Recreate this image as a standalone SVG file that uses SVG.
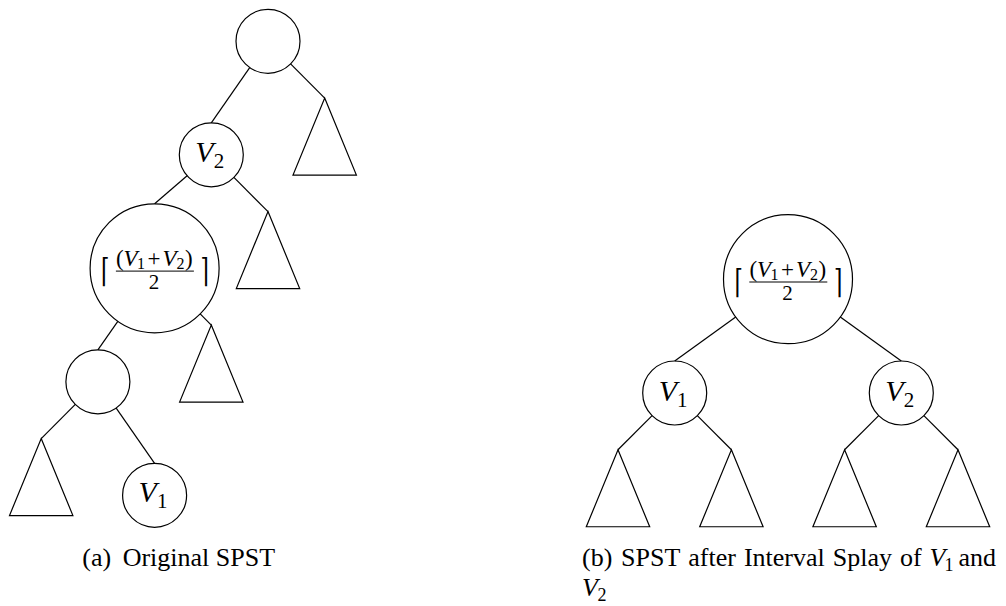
<svg xmlns="http://www.w3.org/2000/svg" width="1006" height="606" viewBox="0 0 1006 606">
<style>
.c{fill:none;stroke:#000;stroke-width:1.2}
.e{fill:none;stroke:#000;stroke-width:1.2}
.t{font-family:"Liberation Serif","Times New Roman",serif;fill:#000}
.i{font-style:italic}
.br{font-family:"DejaVu Serif",serif;fill:#000;font-size:33px}
</style>
<rect width="1006" height="606" fill="#fff"/>
<g id="connectors">
<line class="e" x1="249.7" y1="67.6" x2="211.3" y2="122.8"/>
<line class="e" x1="290.6" y1="63.9" x2="324.7" y2="98.05"/>
<line class="e" x1="187.1" y1="175.7" x2="154.6" y2="203.8"/>
<line class="e" x1="233.9" y1="177.4" x2="268" y2="211.55"/>
<line class="e" x1="117.8" y1="321.3" x2="97.9" y2="349.8"/>
<line class="e" x1="200.2" y1="313.9" x2="211.3" y2="325.05"/>
<line class="e" x1="75.3" y1="404.4" x2="41.2" y2="438.55"/>
<line class="e" x1="116.2" y1="408.1" x2="154.6" y2="463.3"/>
<line class="e" x1="735.7" y1="317" x2="674.7" y2="361"/>
<line class="e" x1="840.3" y1="317" x2="901.3" y2="361"/>
<line class="e" x1="652.1" y1="415.6" x2="618" y2="449.75"/>
<line class="e" x1="697.3" y1="415.6" x2="731.4" y2="449.75"/>
<line class="e" x1="878.7" y1="415.6" x2="844.6" y2="449.75"/>
<line class="e" x1="923.9" y1="415.6" x2="958" y2="449.75"/>
</g>
<g id="a-root"><circle class="c" cx="268" cy="41.3" r="32"/></g>
<g id="a-tri1"><polygon class="c" points="324.7,98.05 356.4,175.05 293,175.05"/></g>
<g id="a-v2"><circle class="c" cx="211.3" cy="154.8" r="32"/>
<text class="t" font-size="30" y="161.7"><tspan class="i" x="195.3">V</tspan><tspan font-size="21" y="168">2</tspan></text></g>
<g id="a-tri2"><polygon class="c" points="268,211.55 299.7,288.55 236.3,288.55"/></g>
<g id="a-mid"><circle class="c" cx="154.6" cy="268.3" r="64.5"/>
<g transform="translate(154.6,268.3)">
<text class="t" font-size="23"><tspan x="-38.5" y="-2.5">(</tspan><tspan class="i" x="-31" y="-2.5">V</tspan><tspan font-size="16" x="-17.5" y="1">1</tspan><tspan x="-7" y="-2.5">+</tspan><tspan class="i" x="8" y="-2.5">V</tspan><tspan font-size="16" x="22" y="1">2</tspan><tspan x="30.5" y="-2.5">)</tspan></text>
<line x1="-38.7" y1="2.8" x2="39.3" y2="2.8" stroke="#000" stroke-width="1"/>
<text class="t" font-size="21" x="-0.5" y="20.8" text-anchor="middle">2</text>
<text class="br" transform="translate(-53.5,14) scale(0.65,1)">⌈</text>
<text class="br" transform="translate(46,14) scale(0.65,1)">⌉</text>
</g></g>
<g id="a-tri3"><polygon class="c" points="211.3,325.05 243,402.05 179.6,402.05"/></g>
<g id="a-low"><circle class="c" cx="97.9" cy="381.8" r="32"/></g>
<g id="a-tri4"><polygon class="c" points="41.2,438.55 72.9,515.55 9.5,515.55"/></g>
<g id="a-v1"><circle class="c" cx="154.6" cy="495.3" r="32"/>
<text class="t" font-size="30" y="501.7"><tspan class="i" x="138.6">V</tspan><tspan font-size="21" y="508">1</tspan></text></g>
<g id="b-mid"><circle class="c" cx="788" cy="279.2" r="64.5"/>
<g transform="translate(788,279.2)">
<text class="t" font-size="23"><tspan x="-38.5" y="-2.5">(</tspan><tspan class="i" x="-31" y="-2.5">V</tspan><tspan font-size="16" x="-17.5" y="1">1</tspan><tspan x="-7" y="-2.5">+</tspan><tspan class="i" x="8" y="-2.5">V</tspan><tspan font-size="16" x="22" y="1">2</tspan><tspan x="30.5" y="-2.5">)</tspan></text>
<line x1="-38.7" y1="2.8" x2="39.3" y2="2.8" stroke="#000" stroke-width="1"/>
<text class="t" font-size="21" x="-0.5" y="20.8" text-anchor="middle">2</text>
<text class="br" transform="translate(-53.5,14) scale(0.65,1)">⌈</text>
<text class="br" transform="translate(46,14) scale(0.65,1)">⌉</text>
</g></g>
<g id="b-v1"><circle class="c" cx="674.7" cy="393" r="32"/>
<text class="t" font-size="30" y="401"><tspan class="i" x="658.7">V</tspan><tspan font-size="21" y="407">1</tspan></text></g>
<g id="b-v2"><circle class="c" cx="901.3" cy="393" r="32"/>
<text class="t" font-size="30" y="401"><tspan class="i" x="885.3">V</tspan><tspan font-size="21" y="407">2</tspan></text></g>
<g id="b-tri1"><polygon class="c" points="618,449.75 649.7,526.75 586.3,526.75"/></g>
<g id="b-tri2"><polygon class="c" points="731.4,449.75 763.1,526.75 699.7,526.75"/></g>
<g id="b-tri3"><polygon class="c" points="844.6,449.75 876.3,526.75 812.9,526.75"/></g>
<g id="b-tri4"><polygon class="c" points="958,449.75 989.7,526.75 926.3,526.75"/></g>
<g id="captions">
<text class="t" font-size="26" y="566"><tspan x="82.3">(a)</tspan><tspan x="122.7">Original SPST</tspan></text>
<text class="t" font-size="26" y="566"><tspan x="582">(b)</tspan><tspan x="621">SPST</tspan><tspan x="688.3">after</tspan><tspan x="743.9">Interval</tspan><tspan x="832.8">Splay</tspan><tspan x="900">of</tspan><tspan class="i" x="929.5">V</tspan><tspan font-size="18" x="944.5" y="571">1</tspan><tspan x="958.5" y="566">and</tspan></text>
<text class="t" font-size="26" y="596"><tspan class="i" x="582">V</tspan><tspan font-size="18" x="597.5" y="601">2</tspan></text>
</g>
</svg>
